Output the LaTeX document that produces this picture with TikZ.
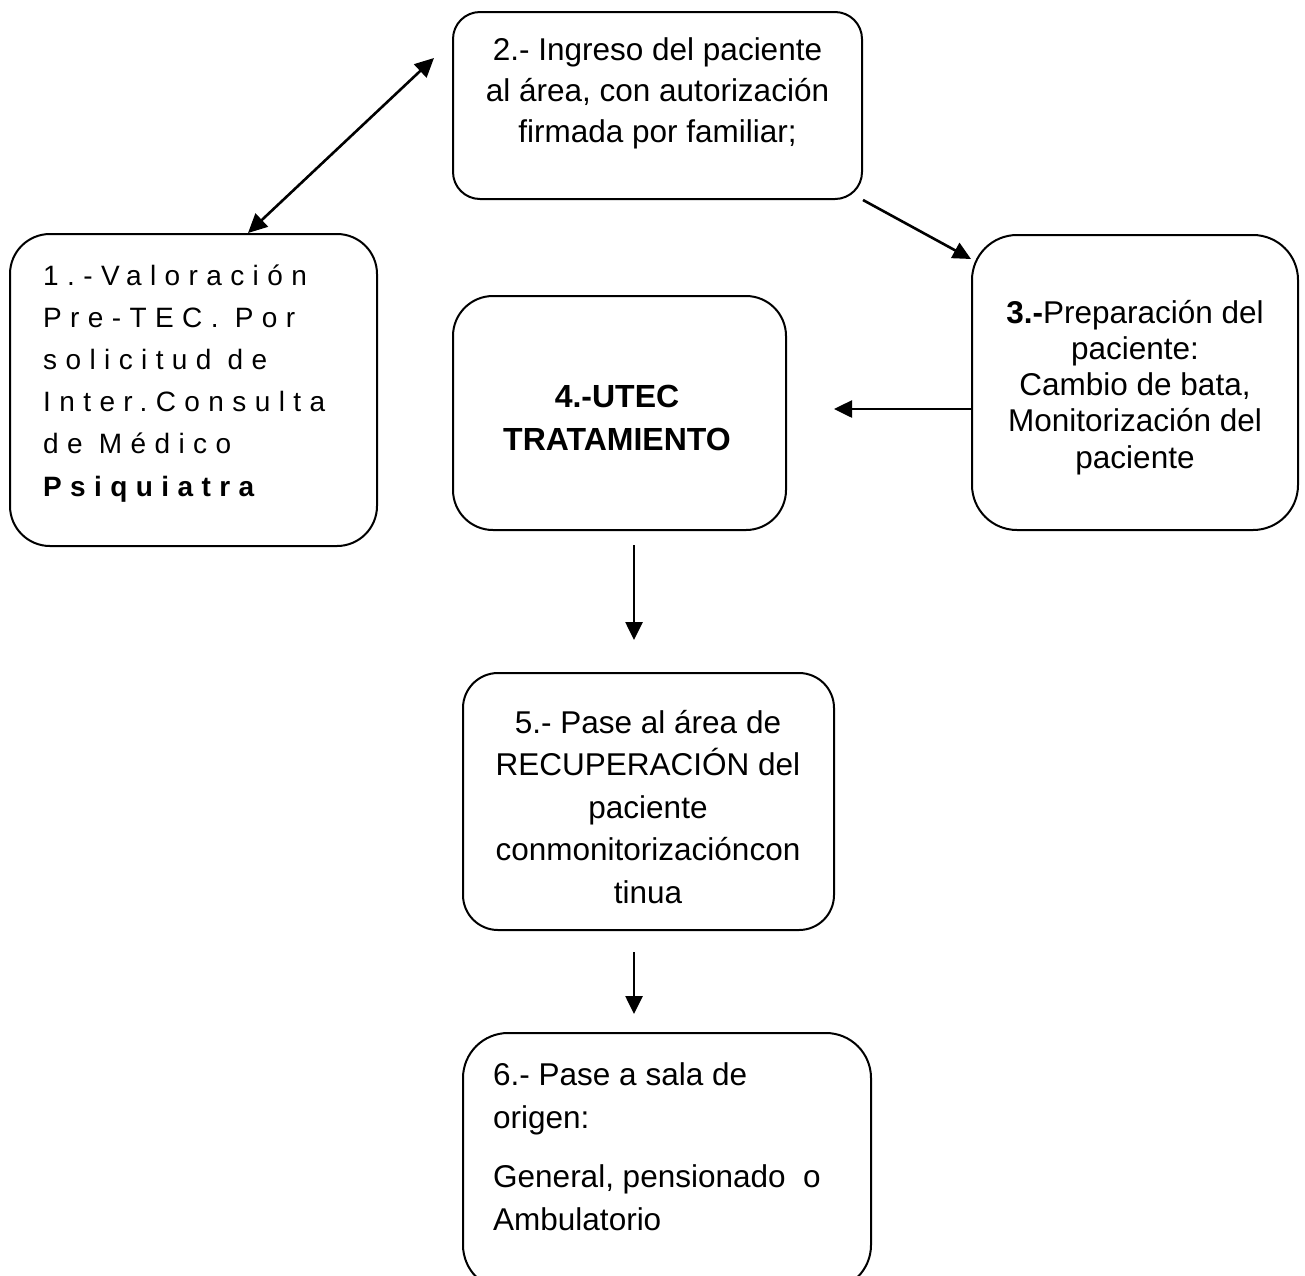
\documentclass[tikz,border=0pt]{standalone}
\usepackage{fontspec}
\setmainfont{Liberation Sans}
\newfontfamily\spacedfont[LetterSpace=30]{Liberation Sans}
\usetikzlibrary{arrows.meta,calc}
\begin{document}
\begin{tikzpicture}[x=1pt,y=-1pt,
  box/.style={draw, line width=2pt, rounded corners=#1, inner sep=0pt},
  box/.default=40pt,
  lbl/.style={inner sep=0pt, anchor=base, align=center},
  txt/.style={font=\fontsize{31.5}{41}\selectfont},
  arr/.style={line width=2.6pt, -{Triangle[length=18pt,width=17pt]}},
  arrboth/.style={line width=2.6pt, {Triangle[length=19pt,width=18pt]}-{Triangle[length=19pt,width=18pt]}},
]
\useasboundingbox (0,0) rectangle (1305,1275);
\clip (0,0) rectangle (1305,1275);

% boxes
\node[box=40pt, minimum width=367pt, minimum height=312pt] (b1) at (193.5,390) {};
\node[box=27pt, minimum width=409pt, minimum height=187pt] (b2) at (657.5,105.5) {};
\node[box=45pt, minimum width=326pt, minimum height=295pt] (b3) at (1135,382.5) {};
\node[box=40pt, minimum width=333pt, minimum height=234pt] (b4) at (619.5,413) {};
\node[box=35pt, minimum width=371pt, minimum height=257pt] (b5) at (648.5,801.5) {};
\node[box=45pt, minimum width=408pt, minimum height=257pt] (b6) at (667,1161.5) {};

% texts (anchored at the baseline of their last line)
\node[inner sep=0pt, anchor=base west, align=left,
      font=\spacedfont\fontsize{28}{42.2}\selectfont] (t1) at (43,496)
  {1.-Valoración\\Pre-TEC. Por\\solicitud de\\Inter.Consulta\\de Médico\\\textbf{Psiquiatra}};
\node[lbl, txt] (t2) at (657.5,142)
  {2.- Ingreso del paciente\\al área, con autorización\\firmada por familiar;};
\node[lbl, font=\fontsize{31.5}{36.2}\selectfont] (t3) at (1135,468)
  {\textbf{3.-}Preparación del\\paciente:\\Cambio de bata,\\Monitorización del\\paciente};
\node[lbl, font=\bfseries\fontsize{32}{43}\selectfont] (t4) at (617,450)
  {4.-UTEC\\TRATAMIENTO};
\node[lbl, font=\fontsize{31.5}{42.5}\selectfont] (t5) at (648,903)
  {5.- Pase al área de\\RECUPERACIÓN del\\paciente\\conmonitorizacióncon\\tinua};
\node[inner sep=0pt, anchor=base west, align=left,
      font=\fontsize{31.5}{43}\selectfont] (t6) at (493,1230)
  {6.- Pase a sala de\\origen:\\[16pt]General, pensionado~~o\\Ambulatorio};

% connector ends
\coordinate (d1) at (248,233);
\coordinate (d2) at (434,58);
\coordinate (c4) at (834,409);
\coordinate (e4) at (634,545);
\coordinate (e5) at (634,640);
\coordinate (f5) at (634,952);
\coordinate (f6) at (634,1014);

% connectors
\draw[arrboth] (d1) -- (d2);
\draw[arr] (b2.south east) -- ($(b3.north west)+(0,25)$);
\draw[arr] ($(b3.west)+(0,26.5)$) -- (c4);
\draw[arr] (e4) -- (e5);
\draw[arr] (f5) -- (f6);
\end{tikzpicture}
\end{document}
